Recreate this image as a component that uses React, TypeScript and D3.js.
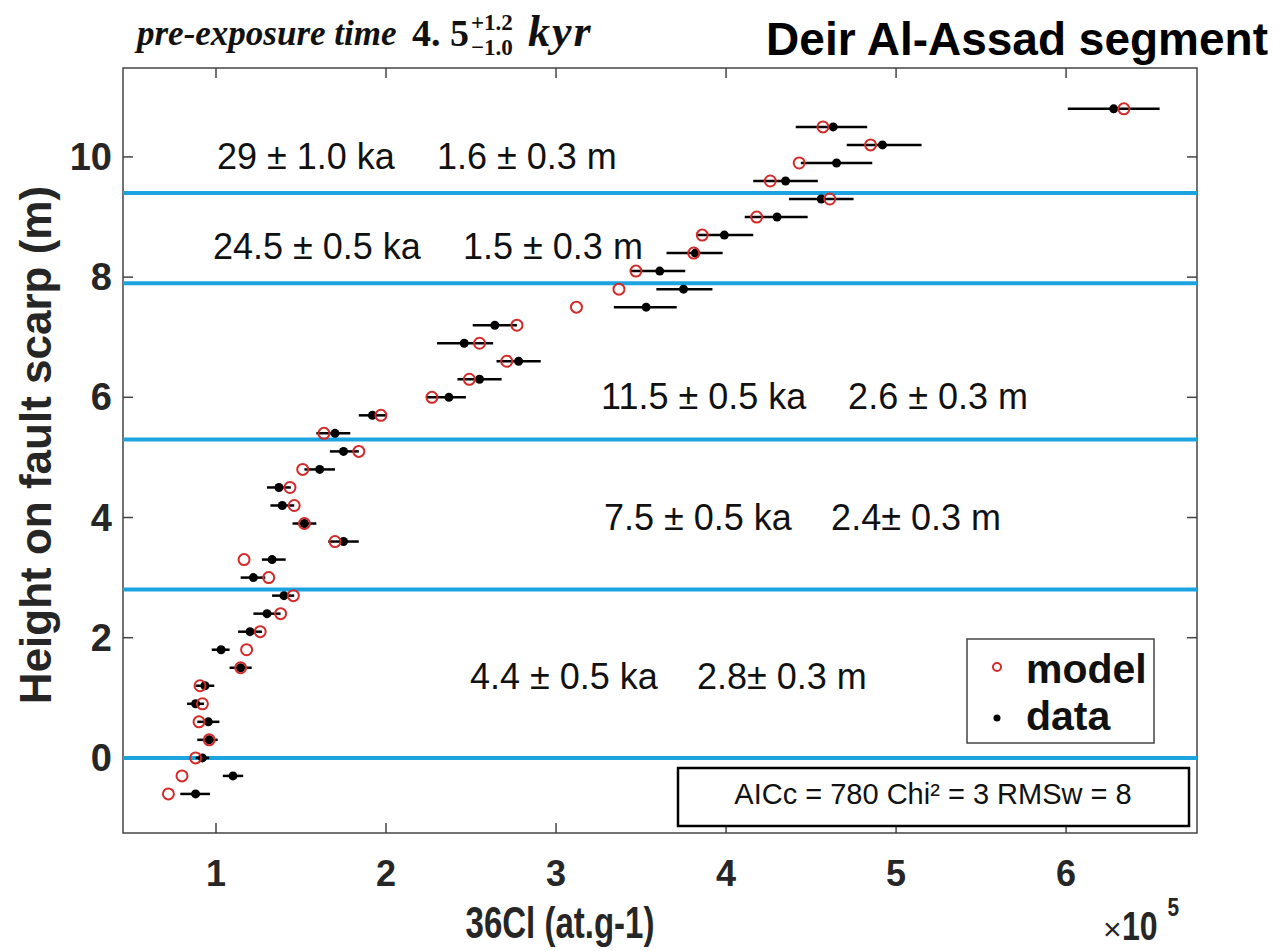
import React from "react";
import * as d3 from "d3";

// Heights on fault scarp (m)
const heights = [10.8, 10.5, 10.2, 9.9, 9.6, 9.3, 9.0, 8.7, 8.4, 8.1, 7.8, 7.5, 7.2, 6.9, 6.6, 6.3, 6.0, 5.7, 5.4, 5.1, 4.8, 4.5, 4.2, 3.9, 3.6, 3.3, 3.0, 2.7, 2.4, 2.1, 1.8, 1.5, 1.2, 0.9, 0.6, 0.3, 0.0, -0.3, -0.6];
// 36Cl model values (x 1e5 at/g)
const modelValues = [6.34, 4.57, 4.85, 4.43, 4.26, 4.61, 4.18, 3.86, 3.81, 3.47, 3.37, 3.12, 2.77, 2.55, 2.71, 2.49, 2.27, 1.97, 1.635, 1.84, 1.51, 1.435, 1.46, 1.52, 1.70, 1.165, 1.31, 1.455, 1.38, 1.26, 1.18, 1.145, 0.906, 0.92, 0.90, 0.96, 0.88, 0.80, 0.72];
// 36Cl measured data (x 1e5 at/g)
const dataValues = [6.28, 4.63, 4.92, 4.65, 4.35, 4.56, 4.30, 3.99, 3.82, 3.61, 3.75, 3.53, 2.64, 2.46, 2.78, 2.55, 2.37, 1.92, 1.70, 1.75, 1.61, 1.37, 1.39, 1.52, 1.75, 1.33, 1.22, 1.40, 1.30, 1.20, 1.03, 1.145, 0.935, 0.88, 0.955, 0.96, 0.92, 1.10, 0.88];
// error bar extents
const errLow = [6.01, 4.41, 4.71, 4.44, 4.16, 4.37, 4.11, 3.83, 3.65, 3.44, 3.59, 3.34, 2.51, 2.30, 2.65, 2.42, 2.24, 1.84, 1.59, 1.67, 1.52, 1.30, 1.32, 1.45, 1.66, 1.27, 1.145, 1.33, 1.22, 1.13, 0.975, 1.08, 0.88, 0.83, 0.89, 0.89, 0.88, 1.04, 0.79];
const errHigh = [6.55, 4.83, 5.15, 4.86, 4.54, 4.75, 4.48, 4.16, 3.98, 3.76, 3.92, 3.71, 2.77, 2.63, 2.91, 2.68, 2.47, 2.00, 1.79, 1.84, 1.70, 1.44, 1.46, 1.59, 1.84, 1.41, 1.29, 1.46, 1.38, 1.27, 1.08, 1.21, 0.99, 0.93, 1.02, 1.01, 0.96, 1.16, 0.965];

// segment boundaries (m)
const boundaries = [0, 2.8, 5.3, 7.9, 9.4];

const xTicks = [1, 2, 3, 4, 5, 6];
const yTicks = [0, 2, 4, 6, 8, 10];

// annotations
const ageLabels = ["29 ± 1.0 ka", "24.5 ± 0.5 ka", "11.5 ± 0.5 ka", "7.5 ± 0.5 ka", "4.4 ± 0.5 ka"];
const slipLabels = ["1.6 ± 0.3 m", "1.5 ± 0.3 m", "2.6 ± 0.3 m", "2.4± 0.3 m", "2.8± 0.3 m"];
const labelHeights = [10.0, 8.5, 6.0, 4.0, 1.35];
const ageLabelX = [1.006, 0.982, 3.265, 3.282, 2.494];
const slipLabelX = [2.30, 2.453, 4.718, 4.618, 3.829];

const legendNames = ["model", "data"];
const statsText = "AICc = 780 Chi² = 3 RMSw = 8";

const W = 1285, H = 951;
const L = 123, R = 1197, T = 68, B = 833;
const FONT = "'Liberation Sans', Arial, Helvetica, sans-serif";
const SERIF = "'Liberation Serif', 'Times New Roman', serif";
const BLUE = "#1ba4df";
const RED = "#d42a2a";

export default function App() {
  const x = d3.scaleLinear().domain([0.453, 6.77]).range([L, R]);
  const y = d3.scaleLinear().domain([-1.25, 11.48]).range([B, T]);

  return (
    <svg width={W} height={H} style={{ position: "absolute", left: 0, top: 0, background: "#fff" }}>
      <rect x={0} y={0} width={W} height={H} fill="#fff" />
      {/* plot frame */}
      <rect x={L} y={T} width={R - L} height={B - T} fill="#fff" stroke="#444" strokeWidth={1.5} />
      {/* ticks */}
      {xTicks.map((t) => (
        <g key={"xt" + t}>
          <line x1={x(t)} x2={x(t)} y1={B} y2={B - 10} stroke="#444" strokeWidth={1.5} />
          <line x1={x(t)} x2={x(t)} y1={T} y2={T + 10} stroke="#444" strokeWidth={1.5} />
          <text x={x(t)} y={886} textAnchor="middle" fontFamily={FONT} fontWeight="bold" fontSize={36} fill="#262626">{t}</text>
        </g>
      ))}
      {yTicks.map((t) => (
        <g key={"yt" + t}>
          <line x1={L} x2={L + 10} y1={y(t)} y2={y(t)} stroke="#444" strokeWidth={1.5} />
          <line x1={R} x2={R - 10} y1={y(t)} y2={y(t)} stroke="#444" strokeWidth={1.5} />
          <text x={112} y={y(t) + 13} textAnchor="end" fontFamily={FONT} fontWeight="bold" fontSize={38} fill="#262626">{t}</text>
        </g>
      ))}
      {/* boundaries */}
      {boundaries.map((b) => (
        <line key={"b" + b} x1={L} x2={R} y1={y(b)} y2={y(b)} stroke={BLUE} strokeWidth={4} />
      ))}
      {/* error bars and data */}
      {heights.map((h, i) => (
        <g key={"d" + i}>
          <line x1={x(errLow[i])} x2={x(errHigh[i])} y1={y(h)} y2={y(h)} stroke="#000" strokeWidth={2.5} />
          <circle cx={x(dataValues[i])} cy={y(h)} r={4.5} fill="#000" />
        </g>
      ))}
      {heights.map((h, i) => (
        <circle key={"m" + i} cx={x(modelValues[i])} cy={y(h)} r={5.5} fill="none" stroke={RED} strokeWidth={2} />
      ))}
      {/* annotations */}
      {ageLabels.map((a, i) => (
        <g key={"a" + i}>
          <text x={x(ageLabelX[i])} y={y(labelHeights[i]) + 12} fontFamily={FONT} fontSize={36} fill="#111">{a}</text>
          <text x={x(slipLabelX[i])} y={y(labelHeights[i]) + 12} fontFamily={FONT} fontSize={36} fill="#111">{slipLabels[i]}</text>
        </g>
      ))}
      {/* legend */}
      <rect x={967} y={639} width={187} height={104} fill="#fff" stroke="#444" strokeWidth={1.5} />
      <circle cx={997} cy={667} r={4} fill="none" stroke={RED} strokeWidth={2} />
      <circle cx={997} cy={718} r={3.5} fill="#000" />
      <text x={1026} y={683} fontFamily={FONT} fontWeight="bold" fontSize={41} fill="#111">{legendNames[0]}</text>
      <text x={1026} y={730} fontFamily={FONT} fontWeight="bold" fontSize={41} fill="#111">{legendNames[1]}</text>
      {/* stats box */}
      <rect x={678} y={768} width={511} height={58} fill="#fff" stroke="#000" strokeWidth={2.5} />
      <text x={933} y={804} textAnchor="middle" fontFamily={FONT} fontSize={29} fill="#111">{statsText}</text>
      {/* axis labels */}
      <text transform="translate(51,445) rotate(-90)" textAnchor="middle" fontFamily={FONT} fontWeight="bold" fontSize={44} fill="#262626">Height on fault scarp (m)</text>
      <g transform="translate(560,938) scale(0.75,1)">
        <text x={0} y={0} textAnchor="middle" fontFamily={FONT} fontWeight="bold" fontSize={44} fill="#262626">36Cl (at.g-1)</text>
      </g>
      <text x={1103} y={940} fontFamily={FONT} fontSize={32} fill="#262626">×</text>
      <g transform="translate(1122,940) scale(0.8,1)">
        <text x={0} y={0} fontFamily={FONT} fontWeight="bold" fontSize={40} fill="#262626">10</text>
        <text x={57} y={-24} fontFamily={FONT} fontWeight="bold" fontSize={26} fill="#262626">5</text>
      </g>
      {/* title */}
      <text x={137} y={45} fontFamily={SERIF} fontStyle="italic" fontWeight="bold" fontSize={35} fill="#111">pre-exposure time</text>
      <text x={412} y={46} fontFamily={SERIF} fontWeight="bold" fontSize={38} fill="#111">4. 5</text>
      <text x={471} y={30} fontFamily={SERIF} fontWeight="bold" fontSize={23} fill="#111">+1.2</text>
      <text x={471} y={55} fontFamily={SERIF} fontWeight="bold" fontSize={23} fill="#111">−1.0</text>
      <text x={528} y={46} fontFamily={SERIF} fontStyle="italic" fontWeight="bold" fontSize={44} letterSpacing={2} fill="#111">kyr</text>
      <text x={1268} y={55} textAnchor="end" fontFamily={FONT} fontWeight="bold" fontSize={46} fill="#000">Deir Al-Assad segment</text>
    </svg>
  );
}
